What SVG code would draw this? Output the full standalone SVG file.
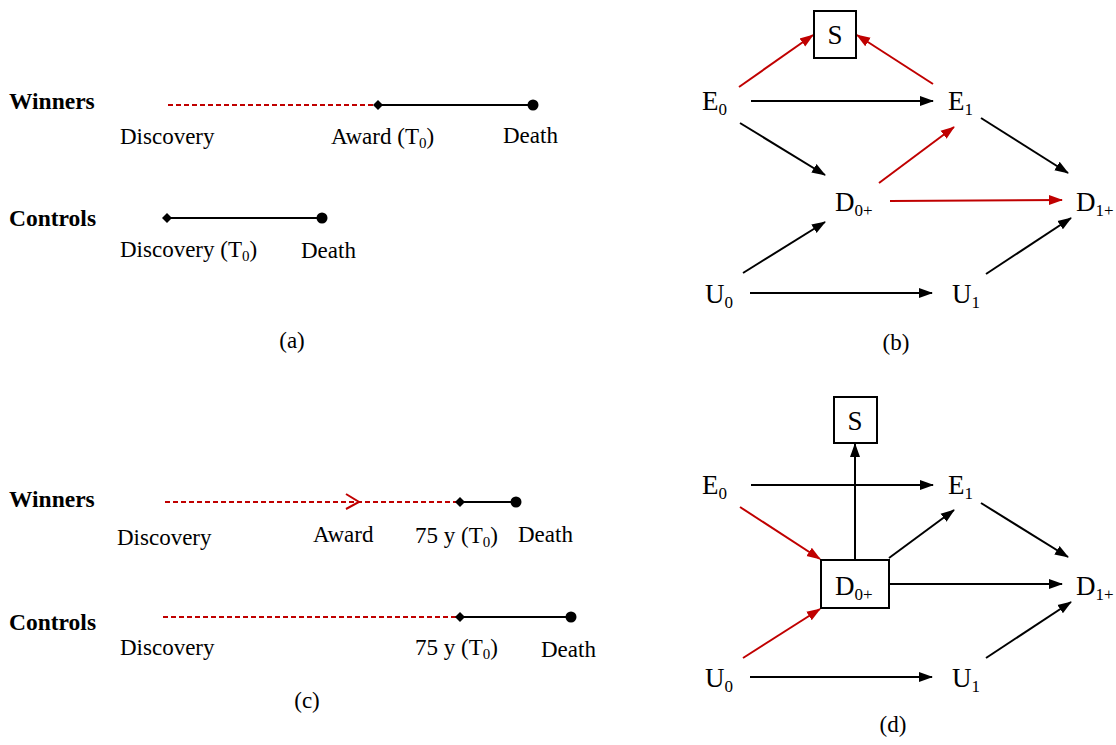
<svg xmlns="http://www.w3.org/2000/svg" width="1116" height="745" viewBox="0 0 1116 745">
<style>
text{font-family:"Liberation Serif","Times New Roman",serif;fill:#000}
.lab{font-size:23px}
.bold{font-size:23.5px;font-weight:bold}
.node{font-size:27px}
.sub{font-size:17px}
.subs{font-size:15px}
.k{stroke:#000;stroke-width:2;fill:none}
.r{stroke:#C00000;stroke-width:2;fill:none}
.rd{stroke:#C00000;stroke-width:1.8;fill:none;stroke-dasharray:5,3}
.box{fill:#fff;stroke:#000;stroke-width:2}
</style>
<defs>
<marker id="ak" markerUnits="userSpaceOnUse" markerWidth="14" markerHeight="12" refX="13" refY="5" orient="auto" viewBox="0 0 14 10"><path d="M0,0 L14,5 L0,10 z" fill="#000"/></marker>
<marker id="ar" markerUnits="userSpaceOnUse" markerWidth="14" markerHeight="12" refX="13" refY="5" orient="auto" viewBox="0 0 14 10"><path d="M0,0 L14,5 L0,10 z" fill="#C00000"/></marker>
<path id="dia" d="M-5,0 L0,-5 L5,0 L0,5 z" fill="#000"/>
</defs>
<rect width="1116" height="745" fill="#fff"/>

<!-- Panel (a) -->
<g id="panel-a">
<g id="a-winners">
<text class="bold" x="9" y="109">Winners</text>
<line class="rd" x1="168" y1="105" x2="378" y2="105"/>
<line class="k" x1="378" y1="105" x2="533" y2="105"/>
<use href="#dia" x="378" y="105"/>
<circle cx="533" cy="105" r="5.5" fill="#000"/>
<text class="lab" x="120" y="144">Discovery</text>
<text class="lab" x="331" y="144">Award (T<tspan class="subs" dy="4">0</tspan><tspan dy="-4">)</tspan></text>
<text class="lab" x="503" y="143">Death</text>
</g>
<g id="a-controls">
<text class="bold" x="9" y="226">Controls</text>
<line class="k" x1="167" y1="218" x2="322" y2="218"/>
<use href="#dia" x="167" y="218"/>
<circle cx="322" cy="218" r="5.5" fill="#000"/>
<text class="lab" x="120" y="257">Discovery (T<tspan class="subs" dy="4">0</tspan><tspan dy="-4">)</tspan></text>
<text class="lab" x="301" y="258">Death</text>
</g>
<text class="lab" x="292" y="348" text-anchor="middle">(a)</text>
</g>

<!-- Panel (c) -->
<g id="panel-c">
<g id="c-winners">
<text class="bold" x="9" y="507">Winners</text>
<line class="rd" x1="165" y1="502" x2="460" y2="502"/>
<polyline class="r" points="346,494 359,502 346,509" stroke-width="1.8"/>
<line class="k" x1="460" y1="502" x2="516" y2="502"/>
<use href="#dia" x="460" y="502"/>
<circle cx="516" cy="502" r="5.5" fill="#000"/>
<text class="lab" x="117" y="545">Discovery</text>
<text class="lab" x="313" y="542">Award</text>
<text class="lab" x="415" y="543">75 y (T<tspan class="subs" dy="4">0</tspan><tspan dy="-4">)</tspan></text>
<text class="lab" x="518" y="542">Death</text>
</g>
<g id="c-controls">
<text class="bold" x="9" y="630">Controls</text>
<line class="rd" x1="163" y1="617" x2="460" y2="617"/>
<line class="k" x1="460" y1="617" x2="571" y2="617"/>
<use href="#dia" x="460" y="617"/>
<circle cx="571" cy="617" r="5.5" fill="#000"/>
<text class="lab" x="120" y="655">Discovery</text>
<text class="lab" x="415" y="655">75 y (T<tspan class="subs" dy="4">0</tspan><tspan dy="-4">)</tspan></text>
<text class="lab" x="541" y="657">Death</text>
</g>
<text class="lab" x="307" y="708" text-anchor="middle">(c)</text>
</g>

<!-- Panel (b) -->
<g id="panel-b">
<g id="b-connectors">
<line class="r" x1="739" y1="87" x2="813" y2="35" marker-end="url(#ar)"/>
<line class="r" x1="933" y1="84" x2="857" y2="35" marker-end="url(#ar)"/>
<line class="k" x1="751" y1="101" x2="933" y2="101" marker-end="url(#ak)"/>
<line class="k" x1="740" y1="123" x2="825" y2="175" marker-end="url(#ak)"/>
<line class="r" x1="879" y1="183" x2="954" y2="127" marker-end="url(#ar)"/>
<line class="r" x1="890" y1="201" x2="1062" y2="200" marker-end="url(#ar)"/>
<line class="k" x1="981" y1="118" x2="1068" y2="173" marker-end="url(#ak)"/>
<line class="k" x1="743" y1="273" x2="825" y2="222" marker-end="url(#ak)"/>
<line class="k" x1="986" y1="274" x2="1071" y2="218" marker-end="url(#ak)"/>
<line class="k" x1="750" y1="293" x2="932" y2="293" marker-end="url(#ak)"/>
</g>
<g id="b-S"><rect class="box" x="814" y="11" width="42" height="47"/><text class="node" x="835" y="44" text-anchor="middle">S</text></g>
<g id="b-E0"><text class="node" x="702" y="110">E<tspan class="sub" dy="5">0</tspan></text></g>
<g id="b-E1"><text class="node" x="948" y="110">E<tspan class="sub" dy="5">1</tspan></text></g>
<g id="b-D0"><text class="node" x="835" y="211">D<tspan class="sub" dy="5">0+</tspan></text></g>
<g id="b-D1"><text class="node" x="1076" y="211">D<tspan class="sub" dy="5">1+</tspan></text></g>
<g id="b-U0"><text class="node" x="705" y="303">U<tspan class="sub" dy="5">0</tspan></text></g>
<g id="b-U1"><text class="node" x="952" y="303">U<tspan class="sub" dy="5">1</tspan></text></g>
<text class="lab" x="896" y="350" text-anchor="middle">(b)</text>
</g>

<!-- Panel (d) -->
<g id="panel-d">
<g id="d-connectors">
<line class="k" x1="855" y1="560" x2="855" y2="444" marker-end="url(#ak)"/>
<line class="k" x1="751" y1="485" x2="933" y2="485" marker-end="url(#ak)"/>
<line class="r" x1="740" y1="507" x2="820" y2="559" marker-end="url(#ar)"/>
<line class="k" x1="889" y1="558" x2="954" y2="510" marker-end="url(#ak)"/>
<line class="k" x1="890" y1="584" x2="1062" y2="584" marker-end="url(#ak)"/>
<line class="k" x1="981" y1="503" x2="1068" y2="557" marker-end="url(#ak)"/>
<line class="r" x1="743" y1="658" x2="820" y2="609" marker-end="url(#ar)"/>
<line class="k" x1="986" y1="658" x2="1071" y2="602" marker-end="url(#ak)"/>
<line class="k" x1="750" y1="677" x2="932" y2="677" marker-end="url(#ak)"/>
</g>
<g id="d-S"><rect class="box" x="834" y="397" width="43" height="46"/><text class="node" x="855" y="430" text-anchor="middle">S</text></g>
<g id="d-D0"><rect class="box" x="821" y="560" width="68" height="48"/><text class="node" x="835" y="595">D<tspan class="sub" dy="5">0+</tspan></text></g>
<g id="d-E0"><text class="node" x="702" y="494">E<tspan class="sub" dy="5">0</tspan></text></g>
<g id="d-E1"><text class="node" x="948" y="494">E<tspan class="sub" dy="5">1</tspan></text></g>
<g id="d-D1"><text class="node" x="1076" y="595">D<tspan class="sub" dy="5">1+</tspan></text></g>
<g id="d-U0"><text class="node" x="705" y="687">U<tspan class="sub" dy="5">0</tspan></text></g>
<g id="d-U1"><text class="node" x="952" y="687">U<tspan class="sub" dy="5">1</tspan></text></g>
<text class="lab" x="893" y="732" text-anchor="middle">(d)</text>
</g>
</svg>
